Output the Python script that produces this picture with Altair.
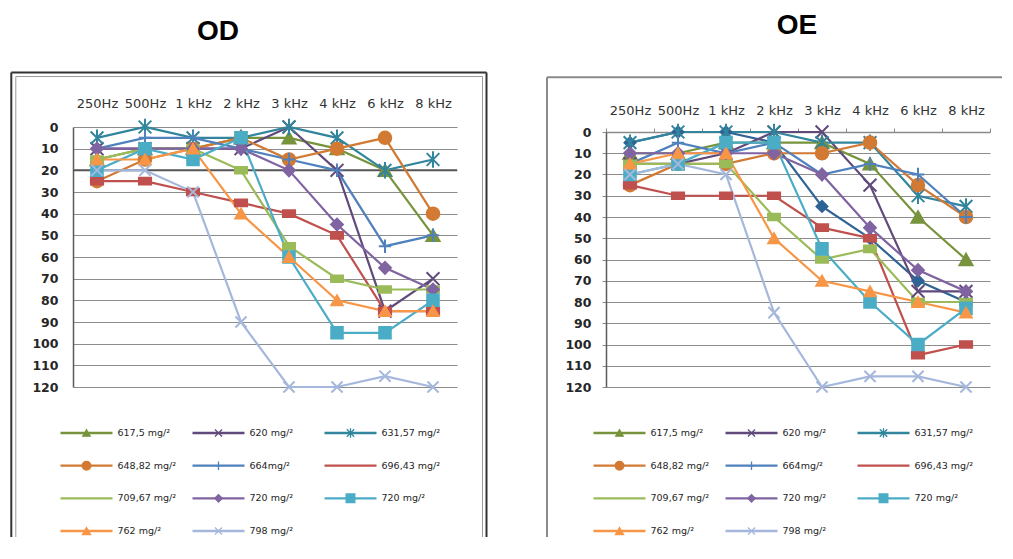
import altair as alt
import pandas as pd

# ---------------- data ----------------
freqs = ["250Hz", "500Hz", "1 kHz", "2 kHz", "3 kHz", "4 kHz", "6 kHz", "8 kHz"]
y_ticks = [0, 10, 20, 30, 40, 50, 60, 70, 80, 90, 100, 110, 120]
panel_titles = ["OD", "OE"]
od_reference_line = [20]

series_keys = ["s617", "s620", "s631", "s648", "s664", "s696", "s709",
               "s720a", "s720b", "s762", "s798", "s631b"]
legend_labels = ["617,5 mg/²", "620 mg/²", "631,57 mg/²", "648,82 mg/²", "664mg/²",
                 "696,43 mg/²", "709,67 mg/²", "720 mg/²", "720 mg/²", "762 mg/²", "798 mg/²"]

# OD (right ear)
od_617_5 = [15, 10, 10, 5, 5, 10, 20, 50]
od_620 = [10, 10, 10, 10, 0, 20, 85, 70]
od_631_57 = [5, 0, 5, 5, 0, 5, 20, 15]
od_648_82 = [25, 15, 10, 5, 15, 10, 5, 40]
od_664 = [10, 5, 5, 10, 15, 20, 55, 50]
od_696_43 = [25, 25, 30, 35, 40, 50, 85, 85]
od_709_67 = [15, 10, 10, 20, 55, 70, 75, 75]
od_720_a = [10, 10, 10, 10, 20, 45, 65, 75]
od_720_b = [20, 10, 15, 5, 60, 95, 95, 80]
od_762 = [15, 15, 10, 40, 60, 80, 85, 85]
od_798 = [20, 20, 30, 90, 120, 120, 115, 120]

# OE (left ear)
oe_617_5 = [10, 10, 5, 5, 5, 15, 40, 60]
oe_620 = [15, 15, 10, 0, 0, 25, 75, 75]
oe_631_57 = [5, 0, 0, 0, 5, 5, 30, 35]
oe_648_82 = [25, 15, 15, 10, 10, 5, 25, 40]
oe_664 = [15, 5, 10, 5, 20, 15, 20, 40]
oe_696_43 = [25, 30, 30, 30, 45, 50, 105, 100]
oe_709_67 = [15, 15, 15, 40, 60, 55, 80, 80]
oe_720_a = [10, 10, 10, 10, 20, 45, 65, 75]
oe_720_b = [20, 15, 5, 5, 55, 80, 100, 83]
oe_762 = [15, 10, 10, 50, 70, 75, 80, 85]
oe_798 = [20, 15, 20, 85, 120, 115, 115, 120]
oe_631_57_b = [5, 0, 0, 5, 35, 50, 70, 80]

# ---------------- styles ----------------
XMARK = "M-1,-1L1,1M-1,1L1,-1"
ASTER = "M-1,-1L1,1M-1,1L1,-1M0,-1.3L0,1.3"
PLUS = "M-1,0L1,0M0,-1.1L0,1.1"
DASH = "M-1,-0.55L1,-0.55L1,0.55L-1,0.55Z"

series_colors = ["#77933C", "#604A7B", "#31859C", "#D27A33", "#4F81BD", "#C0504D",
                 "#9BBB59", "#8064A2", "#4BACC6", "#F79646", "#A5B8DB", "#2E6395"]
series_shapes = ["triangle-up", XMARK, ASTER, "circle", PLUS, DASH, DASH,
                 "diamond", "square", "triangle-up", XMARK, "diamond"]
marker_sizes = [170, 120, 170, 190, 130, 55, 65, 160, 190, 190, 150, 150]
legend_marker_sizes = [55, 50, 55, 75, 60, 0, 0, 55, 75, 65, 50]


def ear_frame(keys, lists):
    rows = []
    for key, vals in zip(keys, lists):
        for fi, (f, v) in enumerate(zip(freqs, vals)):
            rows.append({"key": key, "freq": f, "fi": fi, "value": v})
    return pd.DataFrame(rows)


od_df = ear_frame(series_keys[:11],
                  [od_617_5, od_620, od_631_57, od_648_82, od_664, od_696_43,
                   od_709_67, od_720_a, od_720_b, od_762, od_798])
# the extra dark-blue OE series is drawn first (underneath the others)
oe_df = ear_frame([series_keys[11]] + series_keys[:11],
                  [oe_631_57_b, oe_617_5, oe_620, oe_631_57, oe_648_82, oe_664, oe_696_43,
                   oe_709_67, oe_720_a, oe_720_b, oe_762, oe_798])

legend_df = pd.DataFrame({
    "key": series_keys[:11],
    "label": legend_labels,
    "col": [i % 3 for i in range(11)],
    "row": [i // 3 for i in range(11)],
    "msize": legend_marker_sizes,
})
legend_pts = legend_df[legend_df["msize"] > 0]

W, H = 384, 260
color_scale = alt.Scale(domain=series_keys, range=series_colors)
shape_scale = alt.Scale(domain=series_keys, range=series_shapes)
size_scale = alt.Scale(domain=series_keys, range=marker_sizes)
one = alt.Data(values=[{"a": 1}])


def make_panel(df, title, is_oe):
    y_range = [5, H] if is_oe else [0, H]
    xscale = alt.Scale(type="band", domain=freqs, paddingInner=0, paddingOuter=0)
    yscale = alt.Scale(domain=[0, 120], range=y_range, nice=False, zero=False)
    x_axis = alt.Axis(orient="top", title=None, labelAngle=0, labelFont="DejaVu Sans",
                      labelFontSize=13, labelColor="#333333", grid=False,
                      domain=is_oe, domainColor="#8a8a8a", domainWidth=1.5,
                      ticks=is_oe, tickBand="extent", tickSize=4, tickColor="#8a8a8a",
                      labelPadding=11 if is_oe else 17, offset=-5 if is_oe else 0)
    y_axis = alt.Axis(values=y_ticks, title=None, grid=True, gridColor="#8c8c8c",
                      gridWidth=1, domain=True, domainColor="#5a5a5a", domainWidth=1.5,
                      ticks=is_oe, tickSize=4, tickColor="#8a8a8a",
                      labelFont="DejaVu Sans", labelFontWeight="bold", labelFontSize=12.5,
                      labelColor="#262626", labelPadding=11 if is_oe else 15)
    X = alt.X("freq:N", scale=xscale, axis=x_axis, sort=freqs)
    Y = alt.Y("value:Q", scale=yscale, axis=y_axis)

    main_layers = []
    if not is_oe:
        ref = alt.Chart(pd.DataFrame({"value": od_reference_line})).mark_rule(
            color="#555555", strokeWidth=2).encode(y=Y)
        main_layers.append(ref)
    lines = alt.Chart(df).mark_line(strokeWidth=2.2).encode(
        x=X, y=Y, color=alt.Color("key:N", scale=color_scale, legend=None),
        order=alt.Order("fi:Q"))
    points = alt.Chart(df).mark_point(filled=True, opacity=1, strokeWidth=2).encode(
        x=X, y=Y,
        fill=alt.Fill("key:N", scale=color_scale, legend=None),
        stroke=alt.Stroke("key:N", scale=color_scale, legend=None),
        shape=alt.Shape("key:N", scale=shape_scale, legend=None),
        size=alt.Size("key:O", scale=size_scale, legend=None))
    main_layers += [lines, points]
    main = alt.layer(*main_layers)

    # legend (manual, from label list)
    lx = alt.X("col:Q", scale=alt.Scale(domain=[0, 2], range=[13.5, 277.5], nice=False, zero=False), axis=None)
    ly = alt.Y("row:Q", scale=alt.Scale(domain=[0, 3], range=[306, 404], nice=False, zero=False), axis=None)
    lg_line = alt.Chart(legend_df).mark_tick(orient="horizontal", size=52, thickness=2.4, opacity=1).encode(
        x=lx, y=ly, color=alt.Color("key:N", scale=color_scale, legend=None))
    lg_pt = alt.Chart(legend_pts).mark_point(filled=True, opacity=1, strokeWidth=1.3).encode(
        x=lx, y=ly,
        fill=alt.Fill("key:N", scale=color_scale, legend=None),
        stroke=alt.Stroke("key:N", scale=color_scale, legend=None),
        shape=alt.Shape("key:N", scale=shape_scale, legend=None),
        size=alt.Size("msize:Q", scale=None, legend=None))
    lg_txt = alt.Chart(legend_df).mark_text(align="left", baseline="middle", dx=31,
                                            font="DejaVu Sans", fontSize=9.5,
                                            color="#262626").encode(x=lx, y=ly, text="label:N")

    # frame + title
    deco = []
    if not is_oe:
        segs = [(-61.7, -61.7, -54.5, 410, "#333333", 2),
                (413.5, 413.5, -54.5, 410, "#333333", 2),
                (-61.7, 413.5, -54.5, -54.5, "#333333", 2),
                (-57.2, -57.2, -50.5, 410, "#9a9a9a", 1),
                (409.5, 409.5, -50.5, 410, "#9a9a9a", 1),
                (-57.2, 409.5, -50.5, -50.5, "#9a9a9a", 1)]
        tx, ty = 145, -87
    else:
        segs = [(-59, -59, -49.7, 410, "#8a8a8a", 2),
                (-59, 396, -49.7, -49.7, "#8a8a8a", 2)]
        tx, ty = 191, -93
    for x1, x2, y1, y2, c, w in segs:
        deco.append(alt.Chart(one).mark_rule(color=c, strokeWidth=w).encode(
            x=alt.value(x1), x2=alt.value(x2), y=alt.value(y1), y2=alt.value(y2)))
    ttl = alt.Chart(pd.DataFrame({"t": [title]})).mark_text(
        font="Liberation Sans", fontSize=28, fontWeight="bold", align="center",
        baseline="alphabetic", color="#000000").encode(
        text="t:N", x=alt.value(tx), y=alt.value(ty))
    deco.append(ttl)

    extra = alt.layer(lg_line, lg_pt, lg_txt, *deco)
    return alt.layer(main, extra).resolve_scale(
        x="independent", y="independent", size="independent").properties(width=W, height=H)


od_panel = make_panel(od_df, panel_titles[0], False)
oe_panel = make_panel(oe_df, panel_titles[1], True)

chart = alt.hconcat(od_panel, oe_panel, spacing=58).properties(
    padding={"left": 2, "top": 4, "right": 0, "bottom": 0}
).configure_view(stroke=None)

chart.save("out.html", embed_options={"renderer": "svg", "actions": False})
